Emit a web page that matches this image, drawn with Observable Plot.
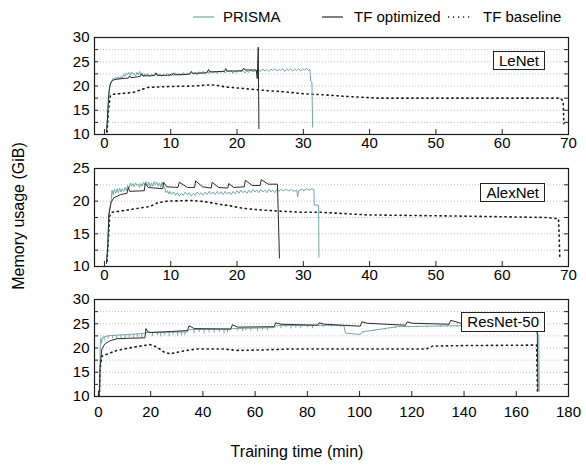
<!DOCTYPE html>
<html>
<head>
<meta charset="utf-8">
<script src="https://cdn.jsdelivr.net/npm/d3@7"></script>
<script src="https://cdn.jsdelivr.net/npm/@observablehq/plot@0.6"></script>
<style>
  html, body { margin: 0; padding: 0; background: #fff; }
  #wrap { position: relative; width: 586px; height: 465px; overflow: hidden; font-family: "Liberation Sans", Arial, Helvetica, sans-serif; color: #000; }
  .panel { position: absolute; left: 0; }
  .tag { position: absolute; box-sizing: border-box; height: 19px; line-height: 17px; border: 1.2px solid #222; background: #fff; font-size: 15px; padding: 0 5px; white-space: nowrap; }
  .title { position: absolute; font-size: 16px; white-space: nowrap; }
</style>
</head>
<body>
<div id="wrap"></div>
<script>
// ---------------- data (time in min, memory in GiB) ----------------
const seriesNames = ["PRISMA", "TF optimized", "TF baseline"];
const modelNames = ["LeNet", "AlexNet", "ResNet-50"];

const lenetPrisma = [[0.3,10.5],[0.5,14],[0.7,19],[0.9,20.4],[1.1,21.0],[1.3,21.6],[1.5,21.3],[1.7,21.8],[1.9,21.4],[2.1,21.9],[2.3,21.5],[2.5,22.0],[2.7,21.6],[2.9,22.4],[3.1,22.0],[3.3,22.7],[3.5,22.3],[3.7,22.8],[3.9,22.2],[4.1,22.9],[4.3,22.4],[4.5,22.6],[4.7,22.1],[4.9,22.8],[5.1,22.3],[5.3,23.0],[5.5,22.2],[5.7,22.7],[5.9,21.9],[6.1,22.5],[6.3,22.1],[6.5,22.6],[6.8,22.0],[7.1,22.4],[7.4,22.2],[7.7,22.7],[8.0,22.1],[8.3,22.5],[8.6,22.0],[8.9,22.4],[9.2,22.1],[9.5,22.6],[9.8,22.2],[10.1,22.5],[10.4,22.1],[10.7,22.7],[11.0,22.3],[11.3,22.6],[11.6,22.2],[11.9,22.8],[12.2,22.3],[12.5,22.6],[12.8,22.4],[13.1,22.9],[13.4,22.5],[13.7,22.8],[14.0,22.3],[14.3,22.9],[14.6,22.6],[14.9,23.0],[15.2,22.5],[15.5,22.9],[15.8,22.6],[16.1,23.1],[16.4,22.7],[16.7,23.0],[17.0,22.6],[17.3,23.1],[17.6,22.8],[17.9,23.2],[18.2,22.7],[18.5,23.1],[18.8,22.9],[19.1,23.2],[19.4,22.6],[19.7,23.1],[20.0,22.8],[20.3,23.3],[20.6,22.9],[20.9,23.2],[21.2,22.7],[21.5,23.1],[21.8,22.8],[22.1,23.3],[22.4,22.9],[22.7,23.2],[23.0,22.8],[23.3,23.3],[23.6,23.0],[23.9,23.5],[24.2,23.1],[24.5,23.4],[24.8,23.0],[25.1,23.5],[25.4,23.2],[25.7,23.6],[26.0,23.1],[26.3,23.4],[26.6,23.2],[26.9,23.6],[27.2,23.0],[27.5,23.5],[27.8,23.2],[28.1,23.6],[28.4,23.1],[28.7,23.5],[29.0,23.2],[29.3,23.6],[29.6,23.1],[29.9,23.5],[30.2,23.3],[30.5,23.6],[30.8,23.2],[31.0,23.4],[31.1,21.0],[31.3,20.8],[31.4,11.5]];
const lenetOptimized = [[0.3,10.5],[0.45,13],[0.6,17.5],[0.8,20.0],[1.0,20.8],[1.3,21.2],[1.8,21.4],[2.5,21.5],[3.2,21.6],[3.6,21.6],[3.8,22.1],[4.0,21.7],[5.0,21.9],[5.4,22.0],[5.6,22.5],[5.8,22.1],[7.0,22.1],[7.6,22.2],[7.8,22.7],[8.0,22.2],[9.5,22.2],[10.2,22.3],[10.4,22.7],[10.6,22.3],[12.5,22.4],[12.9,22.5],[13.1,23.0],[13.3,22.6],[15.3,22.7],[15.5,22.8],[15.7,23.4],[15.9,22.9],[17.8,23.0],[18.1,23.0],[18.3,23.6],[18.5,23.1],[20.4,23.1],[20.8,23.2],[21.0,23.7],[21.2,23.3],[22.9,23.3],[23.05,21.5],[23.2,28.0],[23.3,11.2]];
const lenetBaseline = [[0.4,10.5],[0.6,15],[0.9,18.0],[1.3,18.3],[3,18.5],[4.4,18.7],[5.5,19.2],[6.4,19.7],[8,19.8],[10,19.9],[13.6,20.0],[15.5,20.2],[16.5,20.2],[17.5,20.0],[18.2,19.8],[20,19.6],[23.2,19.2],[25,19.0],[27.2,18.8],[30,18.4],[32.8,18.2],[36,17.9],[41.2,17.5],[50,17.5],[60,17.5],[68.8,17.5],[69.2,16.8],[69.3,12.2]];

const alexnetPrisma = [[0.3,10.5],[0.5,13],[0.7,18],[1.0,20],[1.15,21.7],[1.3,21.0],[1.5,21.8],[1.7,21.2],[1.9,21.9],[2.1,21.3],[2.3,22.0],[2.5,21.4],[2.7,21.9],[2.9,21.5],[3.1,22.1],[3.3,21.6],[3.5,22.4],[3.7,22.0],[3.9,22.8],[4.1,22.3],[4.3,22.7],[4.5,22.2],[4.7,22.8],[4.9,22.4],[5.1,22.6],[5.3,22.1],[5.5,22.7],[5.7,22.3],[5.9,22.9],[6.1,22.5],[6.3,23.0],[6.5,22.4],[6.7,22.9],[6.9,22.2],[7.1,22.8],[7.3,22.3],[7.5,23.0],[7.7,22.5],[7.9,22.9],[8.1,22.3],[8.3,22.8],[8.5,22.1],[8.7,22.9],[8.9,22.4],[9.1,22.0],[9.3,21.3],[9.5,21.6],[9.7,21.1],[9.9,21.5],[10.1,21.0],[10.4,21.4],[10.7,20.9],[11.0,21.3],[11.3,20.8],[11.6,21.2],[11.9,20.9],[12.2,21.4],[12.5,21.0],[12.8,21.3],[13.1,20.8],[13.4,21.2],[13.7,20.9],[14.0,21.4],[14.3,21.0],[14.6,21.3],[14.9,20.9],[15.2,21.4],[15.5,21.0],[15.8,21.5],[16.1,21.1],[16.4,21.4],[16.7,21.0],[17.0,21.5],[17.3,21.1],[17.6,21.4],[17.9,21.0],[18.2,21.5],[18.5,21.1],[18.8,21.4],[19.1,21.0],[19.4,21.5],[19.7,21.1],[20.0,21.6],[20.3,21.2],[20.6,21.7],[20.9,21.3],[21.2,21.6],[21.5,21.2],[21.8,21.7],[22.1,21.3],[22.4,21.8],[22.7,21.4],[23.0,21.7],[23.3,21.3],[23.6,21.8],[23.9,21.4],[24.2,21.7],[24.5,21.3],[24.8,21.8],[25.1,21.4],[25.4,21.7],[25.7,21.3],[26.0,21.8],[26.3,21.5],[26.6,21.8],[27.0,21.6],[27.4,21.8],[27.8,21.6],[28.2,21.8],[28.6,21.5],[29.0,21.7],[29.15,20.7],[29.3,21.6],[29.7,21.8],[30.1,21.6],[30.5,21.9],[30.9,21.7],[31.3,21.9],[31.6,21.8],[31.65,19.4],[32.3,19.4],[32.35,11.4]];
const alexnetOptimized = [[0.3,10.5],[0.5,13],[0.65,17.9],[1.0,19.8],[1.4,20.5],[2.4,21.0],[3.4,21.2],[3.6,22.1],[3.8,21.5],[6.0,21.6],[6.15,22.7],[6.6,22.1],[8.8,21.9],[8.9,22.9],[9.4,22.2],[11.1,22.1],[11.3,22.9],[12.5,22.1],[13.6,22.1],[13.75,23.1],[14.8,22.2],[16.1,22.0],[16.25,22.9],[17.2,22.1],[18.6,22.0],[18.75,22.7],[19.5,22.1],[21.1,22.2],[21.25,23.2],[22.3,22.4],[23.5,22.4],[23.65,23.3],[24.7,22.6],[26.1,22.6],[26.4,11.3]];
const alexnetBaseline = [[0.4,10.8],[0.8,17.8],[1.15,18.3],[2.5,18.5],[4.4,18.8],[6.9,19.2],[7.9,19.7],[9.4,20.0],[12.9,20.1],[14.5,20.0],[15.9,19.8],[17.5,19.5],[18.9,19.3],[20.9,18.9],[23,18.7],[25.9,18.5],[29.9,18.3],[32.6,18.3],[39.6,17.9],[54.7,17.7],[66.7,17.5],[68.5,17.3],[68.7,11.2]];

const resnetPrisma = [[0.6,11.0],[0.65,20.0],[0.9,22.0],[1.2,21.0],[1.5,22.2],[3.4,22.5],[8.6,22.7],[17.5,23.0],[18.2,23.2],[34.0,23.3],[34.7,23.8],[50.5,23.9],[51.3,24.0],[67.3,24.2],[68.0,24.6],[90.0,24.7],[94.0,24.6],[94.6,23.05],[100.3,22.8],[100.9,23.3],[114.4,24.4],[139.0,24.6],[167.6,24.7],[168.0,22.9],[168.6,22.8],[168.8,11.0]];
// short downward drops of PRISMA: [time, from, to]
const resnetPrismaDips = [[2.2,22.3,21.5],[3.7,22.5,21.8],[5.4,22.6,21.9],[7.0,22.6,21.8],[8.6,22.7,22.0],[10.2,22.7,21.9],[11.8,22.8,22.1],[13.4,22.8,22.0],[15.0,22.9,22.2],[16.6,22.9,22.1],[20.7,23.2,22.4],[22.6,23.2,22.6],[23.9,23.2,22.3],[25.4,23.2,22.5],[27.1,23.25,22.3],[28.6,23.25,22.6],[30.3,23.3,22.4],[31.8,23.3,22.5],[33.1,23.3,22.6],[36.6,23.8,23.0],[38.6,23.8,23.2],[40.5,23.85,22.9],[42.4,23.85,23.1],[44.3,23.85,23.0],[46.3,23.9,23.2],[48.1,23.9,22.9],[49.4,23.9,23.1],[53.3,24.0,23.5],[55.2,24.05,23.4],[56.4,24.05,23.6],[58.4,24.1,23.5],[60.9,24.1,23.4],[62.8,24.15,23.6],[64.7,24.15,23.5],[69.9,24.6,24.0],[71.8,24.6,24.2],[73.7,24.6,23.9],[75.6,24.6,24.1],[77.5,24.65,24.0],[80.1,24.65,24.2],[82.0,24.65,24.0],[86.0,24.7,24.2],[89.4,24.7,24.3],[91.3,24.7,24.4],[92.6,24.65,24.3],[101.5,23.4,23.1],[105.4,23.7,23.4],[109.8,24.0,23.7],[113.7,24.35,24.0],[118.8,24.45,24.15],[122.0,24.5,24.2],[125.8,24.5,24.2],[131.0,24.55,24.25],[133.5,24.55,24.3],[137.3,24.6,24.3]];
const resnetOptimized = [[0.3,10.0],[0.6,15.7],[1.3,19.8],[2.6,20.9],[4.5,21.5],[7,21.9],[11,22.0],[17.8,22.1],[18.2,24.0],[19,23.3],[20.1,23.2],[28,23.4],[34.1,23.6],[34.7,24.6],[36.7,24.0],[50.7,23.9],[51.3,24.8],[53.3,24.3],[67.3,24.4],[67.9,25.2],[69.9,24.9],[83.9,24.7],[84.5,25.2],[86.5,24.9],[100.3,24.5],[100.9,25.4],[102.9,25.1],[117.6,24.7],[118.2,25.4],[120.2,25.1],[134.3,24.9],[134.9,25.7],[138.7,25.1],[151,25.2],[151.6,25.8],[154,25.3],[168.0,25.3],[168.3,11.2]];
const resnetBaseline = [[0.3,10.0],[0.8,16.5],[1.3,18.3],[7.0,19.5],[14.7,20.3],[19.8,20.7],[22.4,20.2],[25.0,19.2],[27.5,18.8],[32.6,19.4],[37.7,19.8],[48,19.8],[53,19.5],[63,19.6],[73.4,19.8],[90,19.8],[125.6,19.8],[128,20.4],[140,20.5],[167.8,20.6],[168.1,11.0]];

const xTicks70 = [0, 10, 20, 30, 40, 50, 60, 70];
const xTicks180 = [0, 20, 40, 60, 80, 100, 120, 140, 160, 180];
const yTicks30 = [10, 15, 20, 25, 30];
const yTicks25 = [10, 15, 20, 25];
const yMinor30 = [10, 12.5, 15, 17.5, 20, 22.5, 25, 27.5, 30];
const yMinor25 = [10, 12.5, 15, 17.5, 20, 22.5, 25];
const grid30 = [12.5, 15, 17.5, 20, 22.5, 25, 27.5];
const grid25 = [12.5, 15, 17.5, 20, 22.5];

// ---------------- drawing ----------------
const TEAL = "#74a8a6";
const DARK = "#2a2a2a";
const DOTS = "1.2,3.8";
const FONT = "'Liberation Sans', Arial, Helvetica, sans-serif";
const toRows = (a) => a.map(([t, v]) => ({t, v}));
const wrap = document.getElementById("wrap");

function panel(cfg) {
  const fh = cfg.frameH, fw = 474;
  const marks = [
    Plot.gridY(cfg.grid, {stroke: "#a8a8a8", strokeOpacity: 1, strokeWidth: 0.7, strokeDasharray: "1,2"}),
    Plot.line(toRows(cfg.baseline), {x: "t", y: "v", stroke: "#1a1a1a", strokeWidth: 1.6, strokeDasharray: DOTS}),
    Plot.line(toRows(cfg.prisma), {x: "t", y: "v", stroke: TEAL, strokeWidth: 1}),
    cfg.dips ? Plot.ruleX(cfg.dips, {x: d => d[0], y1: d => d[1], y2: d => d[2], stroke: TEAL, strokeWidth: 1}) : null,
    Plot.line(toRows(cfg.optimized), {x: "t", y: "v", stroke: DARK, strokeWidth: 1}),
    Plot.tickY(cfg.yMinor, {y: d => d, insetRight: fw - 4, stroke: "#222"}),
    Plot.tickY(cfg.yMinor, {y: d => d, insetLeft: fw - 4, stroke: "#222"}),
    Plot.tickX(cfg.xTicks, {x: d => d, insetTop: fh - 5, stroke: "#222"}),
    Plot.axisY({ticks: cfg.yTicks, tickSize: 0, tickPadding: 5, fontSize: 15, label: null}),
    Plot.axisX({ticks: cfg.xTicks, tickSize: 0, tickPadding: cfg.xPad, fontSize: 15, label: null}),
    Plot.frame({stroke: "#1a1a1a", strokeWidth: 1.2})
  ].filter(Boolean);
  const svg = Plot.plot({
    width: 586,
    height: cfg.marginTop + fh + cfg.marginBottom,
    marginLeft: 94, marginRight: 18, marginTop: cfg.marginTop, marginBottom: cfg.marginBottom,
    style: {fontFamily: FONT, fontSize: "15px", color: "#000", background: "transparent", overflow: "visible"},
    x: {domain: cfg.xDomain},
    y: {domain: cfg.yDomain},
    marks
  });
  svg.classList.add("panel");
  svg.style.top = cfg.top + "px";
  wrap.appendChild(svg);
}

panel({top: 25, marginTop: 12, frameH: 97, marginBottom: 28, xPad: 3,
  xDomain: [-1.5, 70], yDomain: [10, 30], xTicks: xTicks70, yTicks: yTicks30, yMinor: yMinor30, grid: grid30,
  prisma: lenetPrisma, optimized: lenetOptimized, baseline: lenetBaseline});
panel({top: 156, marginTop: 12, frameH: 98, marginBottom: 28, xPad: 3,
  xDomain: [-1.5, 70], yDomain: [10, 25], xTicks: xTicks70, yTicks: yTicks25, yMinor: yMinor25, grid: grid25,
  prisma: alexnetPrisma, optimized: alexnetOptimized, baseline: alexnetBaseline});
panel({top: 287, marginTop: 12, frameH: 97, marginBottom: 30, xPad: 10,
  xDomain: [-1.5, 180], yDomain: [10, 30], xTicks: xTicks180, yTicks: yTicks30, yMinor: yMinor30, grid: grid30,
  prisma: resnetPrisma, dips: resnetPrismaDips, optimized: resnetOptimized, baseline: resnetBaseline});

// model tags
const tagTops = [51, 183, 312];
modelNames.forEach((name, i) => {
  const d = document.createElement("div");
  d.className = "tag";
  d.textContent = name;
  d.style.right = "41px";
  d.style.top = tagTops[i] + "px";
  if (i === 2) { d.style.height = "20px"; d.style.lineHeight = "18px"; }
  wrap.appendChild(d);
});

// legend
const leg = d3.select(wrap).append("svg")
  .attr("width", 586).attr("height", 34)
  .style("position", "absolute").style("left", 0).style("top", 0)
  .style("font-family", FONT).style("font-size", "15px");
const legItems = [
  {x1: 193, x2: 214, tx: 223, stroke: TEAL, dash: null, w: 1.2},
  {x1: 322, x2: 343, tx: 354, stroke: DARK, dash: null, w: 1.2},
  {x1: 448, x2: 473, tx: 483, stroke: "#1a1a1a", dash: DOTS, w: 1.6}
];
legItems.forEach((it, i) => {
  leg.append("line").attr("x1", it.x1).attr("x2", it.x2).attr("y1", 17).attr("y2", 17)
    .attr("stroke", it.stroke).attr("stroke-width", it.w).attr("stroke-dasharray", it.dash);
  leg.append("text").attr("x", it.tx).attr("y", 17).attr("dy", "0.35em").attr("fill", "#000").text(seriesNames[i]);
});

// axis titles
const xt = document.createElement("div");
xt.className = "title";
xt.textContent = "Training time (min)";
xt.style.left = "297px"; xt.style.top = "452px";
xt.style.transform = "translate(-50%, -50%)";
wrap.appendChild(xt);

const yt = document.createElement("div");
yt.className = "title";
yt.textContent = "Memory usage (GiB)";
yt.style.left = "19px"; yt.style.top = "216px";
yt.style.transform = "translate(-50%, -50%) rotate(-90deg)";
wrap.appendChild(yt);
</script>
</body>
</html>
